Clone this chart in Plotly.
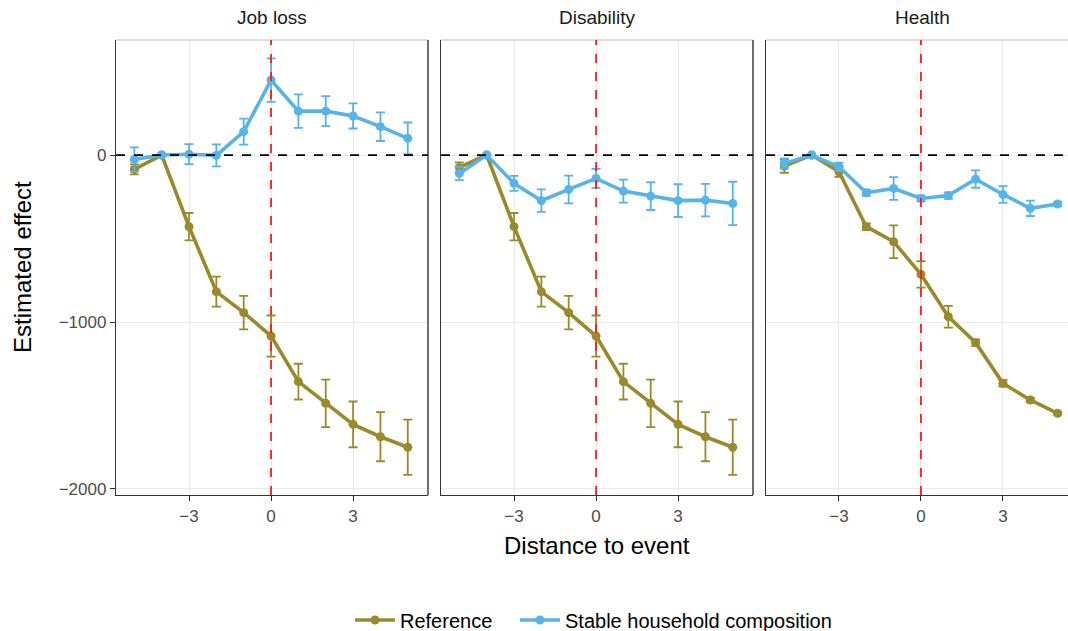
import plotly.graph_objects as go

# ---- data ----
panels = ["Job loss", "Disability", "Health"]
distance = [-5, -4, -3, -2, -1, 0, 1, 2, 3, 4, 5]

ref_job = [-86, 0, -429, -818, -944, -1084, -1357, -1487, -1613, -1687, -1750]
ref_job_err = [30, 0, 82, 90, 100, 123, 107, 142, 137, 147, 165]
stable_job = [-26, 0, 5, -2, 140, 449, 263, 263, 234, 170, 100]
stable_job_err = [72, 0, 60, 66, 78, 130, 100, 90, 75, 86, 95]

ref_dis = [-74, 0, -429, -818, -944, -1084, -1357, -1487, -1613, -1687, -1750]
ref_dis_err = [30, 0, 82, 90, 100, 123, 107, 142, 137, 147, 165]
stable_dis = [-110, 0, -170, -273, -206, -140, -216, -246, -273, -270, -290]
stable_dis_err = [40, 0, 45, 67, 83, 57, 69, 83, 98, 97, 130]

ref_hea = [-66, 0, -100, -429, -519, -715, -968, -1124, -1367, -1467, -1547]
ref_hea_err = [40, 0, 30, 20, 98, 79, 65, 20, 20, 12, 8]
stable_hea = [-50, 0, -70, -226, -200, -260, -243, -144, -236, -319, -293]
stable_hea_err = [30, 0, 25, 18, 68, 18, 20, 52, 50, 46, 12]

series_names = ["Reference", "Stable household composition"]
x_ticks = [-3, 0, 3]
y_ticks = [0, -1000, -2000]
y_tick_labels = ["0", "\u22121000", "\u22122000"]
x_tick_labels = ["\u22123", "0", "3"]

GOLD = "#9A8A2B"
BLUE = "#56B4E9"
FONT = "Liberation Sans, Arial, sans-serif"

W, H = 1068, 631
px_dom = [(116, 428), (441, 753), (766, 1068)]
y_dom = [(H - 495) / H, (H - 40) / H]
x_ranges = [[-5.67, 5.74], [-5.67, 5.74], [-5.67, 5.38]]
y_range = [-2036, 689]

data_sets = [
    (ref_job, ref_job_err, stable_job, stable_job_err),
    (ref_dis, ref_dis_err, stable_dis, stable_dis_err),
    (ref_hea, ref_hea_err, stable_hea, stable_hea_err),
]

fig = go.Figure()
shapes = []
annotations = []

for i, (name, ds) in enumerate(zip(panels, data_sets)):
    xa = "x" if i == 0 else f"x{i+1}"
    ya = "y" if i == 0 else f"y{i+1}"
    for vals, errs, color, sname, lg in [(ds[0], ds[1], GOLD, series_names[0], "legend"),
                                          (ds[2], ds[3], BLUE, series_names[1], "legend2")]:
        fig.add_trace(go.Scatter(
            x=distance, y=vals, mode="lines+markers",
            line=dict(color=color, width=3.6),
            marker=dict(color=color, size=9),
            error_y=dict(type="data", array=errs, color=color, thickness=1.8, width=4.5),
            name=sname, legendgroup=sname, showlegend=(i == 0), legend=lg,
            xaxis=xa, yaxis=ya,
        ))
    d = px_dom[i]
    xkey = "xaxis" if i == 0 else f"xaxis{i+1}"
    ykey = "yaxis" if i == 0 else f"yaxis{i+1}"
    fig.layout[xkey] = dict(
        domain=[d[0] / W, d[1] / W], range=x_ranges[i], anchor=ya,
        tickvals=x_ticks, ticktext=x_tick_labels, ticks="outside", ticklen=5,
        tickcolor="#333333", tickwidth=1.2, tickfont=dict(size=17, color="#4D4D4D", family=FONT),
        showgrid=True, gridcolor="#EBEBEB", gridwidth=1.2, zeroline=False,
        showline=True, linecolor="#333333", linewidth=1.4, automargin=False,
    )
    fig.layout[ykey] = dict(
        domain=y_dom, range=y_range, anchor=xa,
        tickvals=y_ticks, ticktext=y_tick_labels,
        ticks="outside" if i == 0 else "", ticklen=5, tickcolor="#333333", tickwidth=1.2,
        showticklabels=(i == 0),
        tickfont=dict(size=17, color="#4D4D4D", family=FONT),
        showgrid=True, gridcolor="#EBEBEB", gridwidth=1.2, zeroline=False,
        showline=True, linecolor="#333333", linewidth=1.4, automargin=False,
    )
    xr = "x domain" if i == 0 else f"x{i+1} domain"
    yr = "y domain" if i == 0 else f"y{i+1} domain"
    shapes.append(dict(type="line", xref=xr, yref=yr, x0=0, x1=1, y0=1, y1=1,
                       line=dict(color="#BDBDBD", width=1)))
    if i < 2:
        shapes.append(dict(type="line", xref=xr, yref=yr, x0=1, x1=1, y0=0, y1=1,
                           line=dict(color="#333333", width=1.4)))
    shapes.append(dict(type="line", xref=xr, yref=ya, x0=0, x1=1, y0=0, y1=0,
                       line=dict(color="black", width=1.8, dash="dash"), layer="above"))
    shapes.append(dict(type="line", xref=xa, yref=yr, x0=0, x1=0, y0=0, y1=1,
                       line=dict(color="#FF1A1A", width=1.8, dash="dash"), layer="above"))
    annotations.append(dict(text=name, xref="paper", yref="paper",
                            x=(d[0] + 312 / 2) / W, y=(H - 17) / H,
                            showarrow=False, font=dict(size=19, color="#1A1A1A", family=FONT),
                            xanchor="center", yanchor="middle"))

annotations.append(dict(text="Estimated effect", xref="paper", yref="paper",
                        x=22 / W, y=(H - 267) / H, textangle=-90, showarrow=False,
                        font=dict(size=24, color="black", family=FONT),
                        xanchor="center", yanchor="middle"))
annotations.append(dict(text="Distance to event", xref="paper", yref="paper",
                        x=597 / W, y=(H - 545) / H, showarrow=False,
                        font=dict(size=24, color="black", family=FONT),
                        xanchor="center", yanchor="middle"))

legend_common = dict(orientation="h", y=(H - 620) / H, xanchor="left", yanchor="middle",
                     font=dict(size=20, color="black", family=FONT), itemwidth=40,
                     bgcolor="rgba(0,0,0,0)")

fig.update_layout(
    width=W, height=H, margin=dict(l=0, r=0, t=0, b=0, autoexpand=False),
    paper_bgcolor="white", plot_bgcolor="white",
    shapes=shapes, annotations=annotations,
    font=dict(family=FONT),
    legend=dict(x=350 / W, **legend_common),
    legend2=dict(x=515 / W, **legend_common),
)

fig.write_html("out.html")
